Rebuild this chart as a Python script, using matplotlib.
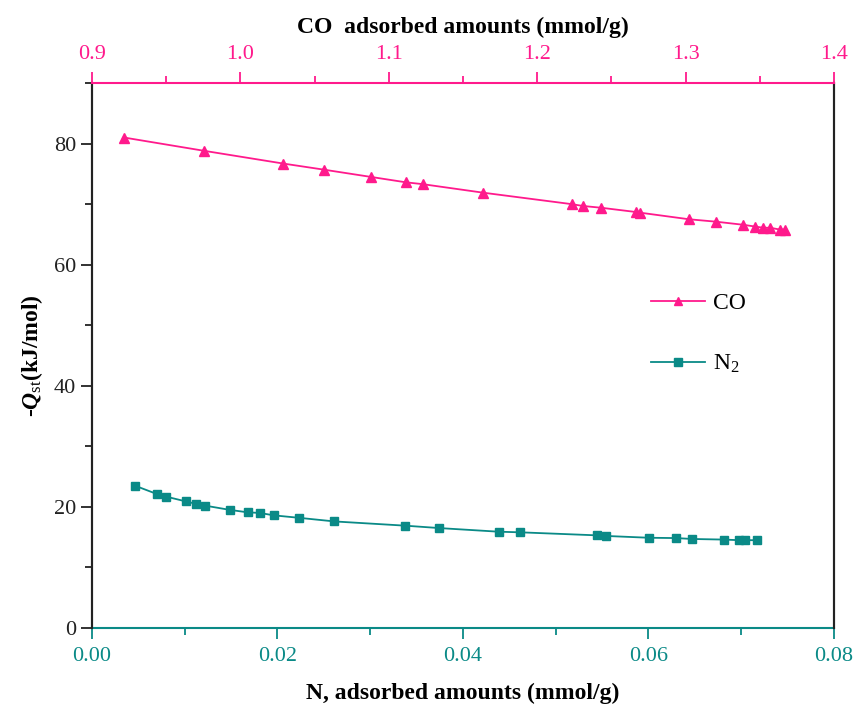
import matplotlib
matplotlib.use("Agg")
import matplotlib.pyplot as plt
from matplotlib.ticker import MultipleLocator

plt.rcParams["font.family"] = ["Liberation Serif", "DejaVu Serif"]
plt.rcParams["mathtext.fontset"] = "custom"
plt.rcParams["mathtext.rm"] = "Liberation Serif"
plt.rcParams["mathtext.it"] = "Liberation Serif:italic:bold"
plt.rcParams["mathtext.bf"] = "Liberation Serif:bold"

pink = "#FF1A8C"
teal = "#0A8A87"

# CO isosteric heat vs CO loading (top axis)
co_x = [0.9216, 0.9757, 1.0289, 1.0561, 1.0878, 1.1116, 1.1228, 1.1633, 1.2232,
        1.2307, 1.2432, 1.2665, 1.2690, 1.3023, 1.3205, 1.3385, 1.3468, 1.3524,
        1.3569, 1.3636, 1.3670]
co_y = [81.0, 78.8, 76.7, 75.7, 74.5, 73.6, 73.3, 71.9, 70.0,
        69.7, 69.4, 68.7, 68.6, 67.5, 67.1, 66.6, 66.3, 66.1,
        66.1, 65.8, 65.8]

# N2 isosteric heat vs N2 loading (bottom axis)
n2_x = [0.00464, 0.00704, 0.00798, 0.01013, 0.01121, 0.01222, 0.01488, 0.01679,
        0.01808, 0.01962, 0.02229, 0.02612, 0.03375, 0.03745, 0.04385, 0.04618,
        0.05442, 0.05542, 0.06006, 0.06297, 0.06472, 0.06814, 0.06979, 0.07044,
        0.07173]
n2_y = [23.5, 22.1, 21.7, 20.9, 20.5, 20.2, 19.5, 19.1,
        19.0, 18.6, 18.2, 17.6, 16.9, 16.5, 15.9, 15.8,
        15.3, 15.2, 14.9, 14.85, 14.7, 14.6, 14.5, 14.5,
        14.5]

fig = plt.figure(figsize=(8.58, 7.06), dpi=100)
ax = fig.add_axes([0.1072, 0.1105, 0.8648, 0.7719])
ax2 = ax.twiny()

ln_n2, = ax.plot(n2_x, n2_y, color=teal, marker="s", markersize=6, lw=1.3, label="N$_2$")
ln_co, = ax2.plot(co_x, co_y, color=pink, marker="^", markersize=7, lw=1.3, label="CO")

ax.set_xlim(0, 0.08)
ax.set_ylim(0, 90)
ax2.set_xlim(0.9, 1.4)

ax.xaxis.set_major_locator(MultipleLocator(0.02))
ax.xaxis.set_minor_locator(MultipleLocator(0.01))
ax.yaxis.set_major_locator(MultipleLocator(20))
ax.yaxis.set_minor_locator(MultipleLocator(10))
ax2.xaxis.set_major_locator(MultipleLocator(0.1))
ax2.xaxis.set_minor_locator(MultipleLocator(0.05))
ax.xaxis.set_major_formatter(plt.FormatStrFormatter("%.2f"))
ax2.xaxis.set_major_formatter(plt.FormatStrFormatter("%.1f"))

for a in (ax, ax2):
    a.spines["left"].set_color("#222222")
    a.spines["right"].set_color("#222222")
    for s in a.spines.values():
        s.set_linewidth(1.5)
ax.spines["bottom"].set_color(teal)
ax2.spines["top"].set_color(pink)
ax.spines["top"].set_visible(False)
ax2.spines["bottom"].set_visible(False)

ax.tick_params(axis="x", which="both", colors=teal, labelcolor=teal, direction="out",
               labelsize=16, width=1.3)
ax.tick_params(axis="x", which="major", length=8, pad=6)
ax.tick_params(axis="x", which="minor", length=5)
ax.tick_params(axis="y", which="both", colors="#222222", direction="out",
               labelsize=16, width=1.3, right=False)
ax.tick_params(axis="y", which="major", length=8)
ax.tick_params(axis="y", which="minor", length=5)
ax2.tick_params(axis="x", which="both", colors=pink, labelcolor=pink, direction="out",
                labelsize=16, width=1.3)
ax2.tick_params(axis="x", which="major", length=8, pad=6)
ax2.tick_params(axis="x", which="minor", length=5)

ax.set_xlabel("N, adsorbed amounts (mmol/g)", fontsize=17, fontweight="bold", labelpad=12)
ax2.set_xlabel("CO  adsorbed amounts (mmol/g)", fontsize=17, fontweight="bold", labelpad=8)
ax.set_ylabel(r"-$Q_{\mathrm{st}}$(kJ/mol)", fontsize=17, fontweight="bold", labelpad=6)

ax.legend([ln_co, ln_n2], ["CO", "N$_2$"], loc="upper left", bbox_to_anchor=(0.725, 0.655),
          frameon=False, fontsize=17, handlelength=2.3, labelspacing=1.66,
          handletextpad=0.3, markerscale=0.85)

fig.savefig("out.png", dpi=100)
